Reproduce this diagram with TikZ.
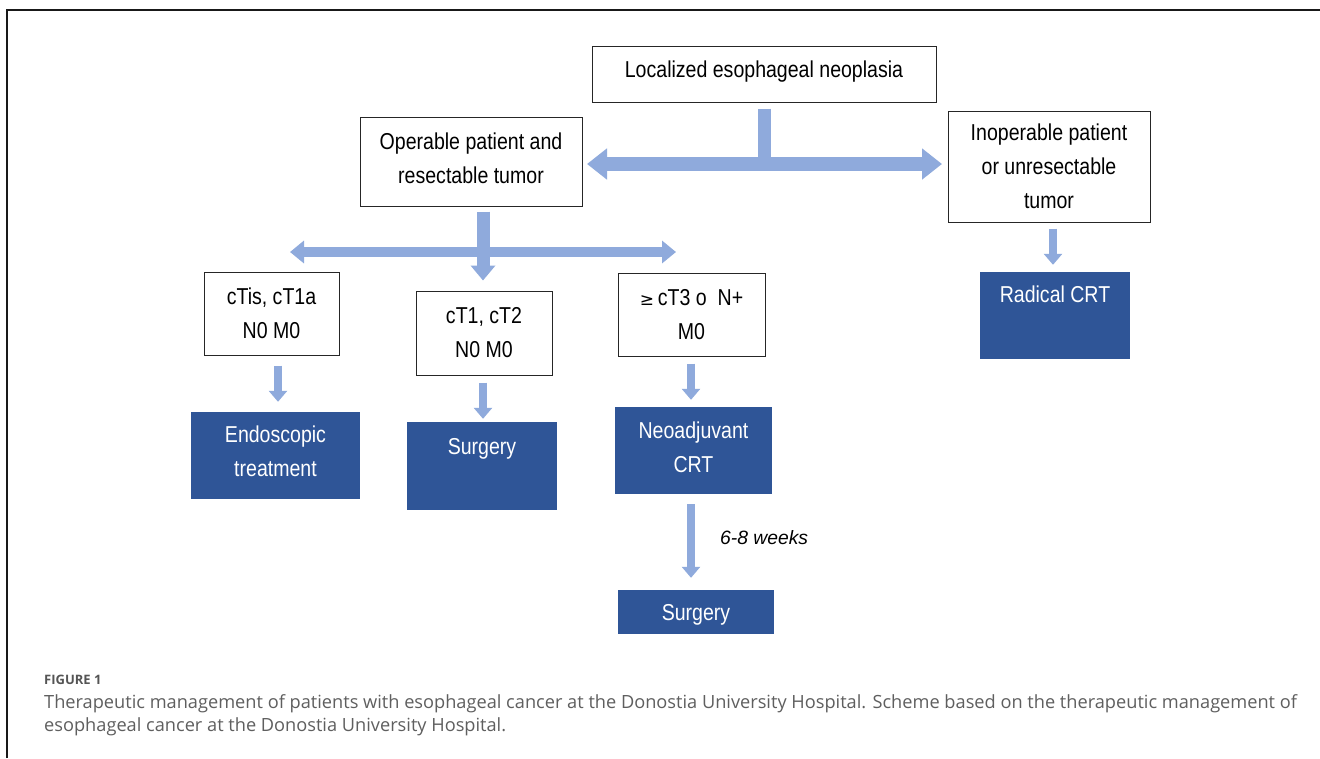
\documentclass[tikz,border=0pt]{standalone}
\usepackage{fontspec}
\setmainfont{Liberation Sans}[FakeStretch=0.85]
\newfontfamily\capfont{Open Sans}
\newfontfamily\symfont{DejaVu Sans}
\newfontfamily\wkfont{Liberation Sans}
\usetikzlibrary{arrows.meta}
\definecolor{arrowblue}{HTML}{8FAADC}
\definecolor{boxblue}{HTML}{2F5597}
\definecolor{capgray}{HTML}{5F5F5F}
\begin{document}
\begin{tikzpicture}[x=1pt,y=-1pt,
  wbox/.style={draw=black!85, line width=1pt, fill=white, align=center,
    inner sep=0pt, font=\fontsize{23}{34}\selectfont},
  dbox/.style={draw=none, fill=boxblue, text=white, align=center,
    inner sep=0pt, font=\fontsize{23}{34}\selectfont},
  bigdouble/.style={draw=arrowblue, line width=13.5pt, {Triangle[length=20pt,width=30pt]}-{Triangle[length=20pt,width=30pt]}},
  stemline/.style={draw=arrowblue, line width=13pt},
  midarrow/.style={draw=arrowblue, line width=13pt, -{Triangle[length=15pt,width=24pt]}},
  middouble/.style={draw=arrowblue, line width=10pt, {Triangle[length=14pt,width=22pt]}-{Triangle[length=14pt,width=22pt]}},
  smallarrow/.style={draw=arrowblue, line width=8.5pt, -{Triangle[length=11pt,width=18pt]}},
  frameline/.style={draw=black!90, line width=1.5pt},
  captext/.style={anchor=base west, inner sep=0pt, text=capgray, font=\capfont\fontsize{18.2}{23}\selectfont}
]
\useasboundingbox (0,0) rectangle (1320,758);
\fill[white] (0,0) rectangle (1320,758);
% frame
\coordinate (fa) at (7,758);
\coordinate (fb) at (7,10);
\coordinate (fc) at (1320,10);
\draw[frameline] (fa) -- (fb) -- (fc);

% boxes
\node[wbox, minimum width=344pt, minimum height=56pt, text depth=10pt] (loc) at (764,74) {Localized esophageal neoplasia};
\node[wbox, minimum width=222pt, minimum height=89pt, text depth=6pt] (op) at (471,161.5) {Operable patient and\\resectable tumor};
\node[wbox, minimum width=202pt, minimum height=111pt] (inop) at (1049,166.5) {Inoperable patient\\or unresectable\\tumor};
\node[wbox, minimum width=135pt, minimum height=83pt] (t1a) at (271.5,313.5) {cTis, cT1a\\N0 M0};
\node[wbox, minimum width=136pt, minimum height=84pt] (t2) at (484,333) {cT1, cT2\\N0 M0};
\node[wbox, minimum width=147pt, minimum height=83pt] (t3) at (691.5,314.5) {{\symfont\fontsize{17}{34}\selectfont ≥}\,cT3 o\ \ N+\\M0};
\node[dbox, minimum width=169pt, minimum height=87pt, text depth=8pt] (endo) at (275.5,455.5) {Endoscopic\\treatment};
\node[dbox, minimum width=150pt, minimum height=88pt, text depth=6pt] (surg1) at (482,466) {Surgery\\~};
\node[dbox, minimum width=157pt, minimum height=87pt, text depth=6pt] (neo) at (693.5,450.5) {Neoadjuvant\\CRT};
\node[dbox, minimum width=156pt, minimum height=44pt, text depth=0pt] (surg2) at (696,612) {Surgery};
\node[dbox, minimum width=150pt, minimum height=87pt, text depth=8pt] (rad) at (1055,315.5) {Radical CRT\\~};

% top split
\coordinate (j1) at (764,164);
\coordinate (jl) at (587,164);
\coordinate (jr) at (942,164);
\draw[bigdouble] (jl) -- (jr);
\draw[stemline, shorten <=6pt, shorten >=-6pt] (loc.south) -- (loc.south |- j1);

% operable split
\coordinate (j2l) at (290,252);
\coordinate (j2r) at (676,252);
\coordinate (s2) at ([xshift=12pt]op.south);
\draw[middouble] (j2l) -- (j2r);
\draw[midarrow, shorten <=5pt, shorten >=10pt] (s2) -- (s2 |- t2.north);

% small arrows
\coordinate (a1) at ([xshift=6.5pt]t1a.south);
\coordinate (a2) at ([xshift=-1pt]t2.south);
\coordinate (a3) at ([xshift=-0.5pt]t3.south);
\coordinate (a4) at ([xshift=-2.5pt]neo.south);
\coordinate (a5) at ([xshift=4pt]inop.south);
\draw[smallarrow, shorten <=10pt, shorten >=10pt] (a1) -- (a1 |- endo.north);
\draw[smallarrow, shorten <=7pt, shorten >=3pt] (a2) -- (a2 |- surg1.north);
\draw[smallarrow, shorten <=7pt, shorten >=7pt] (a3) -- (a3 |- neo.north);
\draw[smallarrow, shorten <=10pt, shorten >=12pt] (a4) -- (a4 |- surg2.north);
\draw[smallarrow, shorten <=6pt, shorten >=7pt] (a5) -- (a5 |- rad.north);
\node[anchor=west, inner sep=0pt, font=\wkfont\itshape\fontsize{19.3}{22}\selectfont] (wk) at (720,538) {6-8 weeks};

% caption
\node[anchor=base west, inner sep=0pt, text=capgray!90!black, font=\capfont\bfseries\fontsize{13}{15}\selectfont] (figlab) at (44,684) {FIGURE 1};
\node[captext] (cap1) at (44,708) {Therapeutic management of patients with esophageal cancer at the Donostia University Hospital. Scheme based on the therapeutic management of};
\node[captext] (cap2) at (44,731) {esophageal cancer at the Donostia University Hospital.};
\end{tikzpicture}
\end{document}
